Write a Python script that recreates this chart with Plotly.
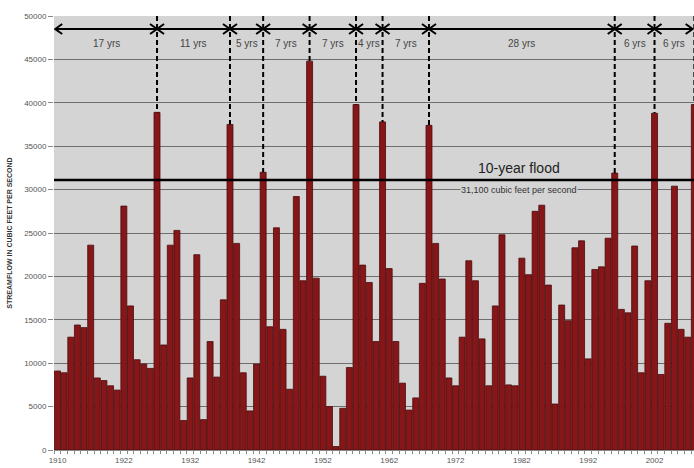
import plotly.graph_objects as go

# ---------------- data ----------------
years = [1910] + list(range(1913, 2009))  # category labels (first label 1910, then 1913..2008)
flow = [9100, 8900, 13000, 14400, 14100, 23600, 8300, 8000, 7400, 6900,
        28100, 16600, 10400, 9900, 9400, 38900, 12100, 23600, 25300, 3400,
        8300, 22500, 3500, 12500, 8400, 17300, 37500, 23800, 8900, 4500,
        9900, 32000, 14200, 25600, 13900, 7000, 29200, 19500, 44800, 19800,
        8500, 5000, 400, 4800, 9500, 39800, 21300, 19300, 12500, 37800,
        20900, 12500, 7700, 4600, 6000, 19200, 37400, 23800, 19700, 8300,
        7400, 13000, 21800, 19500, 12800, 7400, 16600, 24800, 7500, 7400,
        22100, 20200, 27500, 28200, 19000, 5300, 16700, 14900, 23300, 24100,
        10500, 20800, 21100, 24400, 31900, 16200, 15800, 23500, 8900, 19500,
        38800, 8700, 14600, 30400, 13900, 13000, 39800]
flood_years = [1927, 1938, 1943, 1950, 1957, 1961, 1968, 1996, 2002, 2008]
gap_labels = ["17 yrs", "11 yrs", "5 yrs", "7 yrs", "7 yrs", "4 yrs", "7 yrs", "28 yrs", "6 yrs", "6 yrs"]
tick_every = 10
ten_year_flood = 31100
arrow_level = 48500
label_level = 46850

# ---------------- layout constants ----------------
W, H = 694, 468
ML, MR, MT, MB = 54, 0, 16, 18
x_range = [-0.53, 95.95]
y_range = [0, 50000]
px_per_x = (W - ML - MR) / (x_range[1] - x_range[0])
px_per_y = (H - MT - MB) / (y_range[1] - y_range[0])

idx = list(range(len(years)))
flood_idx = [years.index(y) for y in flood_years]
left_tip = -0.35
right_tip = 95.75

fig = go.Figure()

fig.add_trace(go.Bar(
    x=idx, y=flow,
    marker=dict(color="#861618", line=dict(color="#4a0a0c", width=0.8)),
    hoverinfo="skip", showlegend=False,
))

# dashed vertical lines from top to flood peaks
dx_, dy_ = [], []
for i in flood_idx:
    dx_ += [i, i, None]
    dy_ += [y_range[1], flow[i], None]
fig.add_trace(go.Scatter(x=dx_, y=dy_, mode="lines",
                         line=dict(color="black", width=2, dash="5px,3px"),
                         hoverinfo="skip", showlegend=False))

# horizontal arrow line
fig.add_trace(go.Scatter(x=[left_tip, right_tip], y=[arrow_level, arrow_level], mode="lines",
                         line=dict(color="black", width=2), hoverinfo="skip", showlegend=False))

# chevrons (arrowheads)
d = 7 / px_per_x
h = 5 / px_per_y
cx, cy = [], []
def chevron(tip, direction):
    cx.extend([tip + direction * d, tip, tip + direction * d, None])
    cy.extend([arrow_level + h, arrow_level, arrow_level - h, None])
chevron(left_tip, 1)
chevron(right_tip, -1)
for i in flood_idx:
    if i < right_tip - 0.5:
        chevron(i, 1)
        chevron(i, -1)
fig.add_trace(go.Scatter(x=cx, y=cy, mode="lines",
                         line=dict(color="black", width=2), hoverinfo="skip", showlegend=False))

# interval labels
starts = [left_tip] + flood_idx[:-1]
for s, e, t in zip(starts, flood_idx, gap_labels):
    fig.add_annotation(x=(s + e) / 2, y=label_level, text=t, showarrow=False, xanchor="center",
                       font=dict(size=10, color="#444444", family="Liberation Sans"))

# 10-year flood line
fig.add_shape(type="line", xref="paper", x0=0, x1=1, y0=ten_year_flood, y1=ten_year_flood,
              line=dict(color="black", width=2.5), layer="above")
fig.add_annotation(xref="paper", x=0.727, y=ten_year_flood, xanchor="center", yanchor="bottom",
                   yshift=2, text="10-year flood", showarrow=False,
                   font=dict(size=14, color="#222222", family="Liberation Sans"))
fig.add_annotation(xref="paper", x=0.727, y=30000, xanchor="center", yanchor="middle",
                   text="31,100 cubic feet per second", showarrow=False, bgcolor="#d4d4d4",
                   borderpad=0,
                   font=dict(size=9, color="#333333", family="Liberation Sans"))

fig.update_layout(
    width=W, height=H,
    margin=dict(l=ML, r=MR, t=MT, b=MB, autoexpand=False),
    paper_bgcolor="white", plot_bgcolor="#d4d4d4",
    bargap=0.1,
    font=dict(family="Liberation Sans", color="#444444"),
    showlegend=False,
)
fig.update_xaxes(
    range=x_range, automargin=False,
    tickmode="array",
    tickvals=idx[::tick_every],
    ticktext=[str(years[i]) for i in idx[::tick_every]],
    ticks="", showgrid=False, zeroline=False,
    showline=True, linecolor="#888888", linewidth=1,
    tickfont=dict(size=8, color="#555555"),
    ticklabelstandoff=2,
    minor=dict(tickmode="linear", tick0=-0.5, dtick=1, ticks="outside", ticklen=3,
               tickcolor="#888888", showgrid=False),
)
fig.update_yaxes(
    range=y_range, tick0=0, dtick=5000, tickformat="d", automargin=False,
    showgrid=True, gridcolor="#6e6e6e", gridwidth=1, zeroline=False,
    ticks="outside", ticklen=5, tickcolor="#888888",
    tickfont=dict(size=8, color="#555555"),
    showline=False,
    title=dict(text="<b>STREAMFLOW IN CUBIC FEET PER SECOND</b>",
               font=dict(size=7, color="#333333", family="Liberation Sans"), standoff=10),
)

fig.write_html(
    "out.html",
    config={"displayModeBar": False, "staticPlot": True},
    post_script="document.body.style.margin='0';document.body.style.padding='0';document.body.style.overflow='hidden';",
)
